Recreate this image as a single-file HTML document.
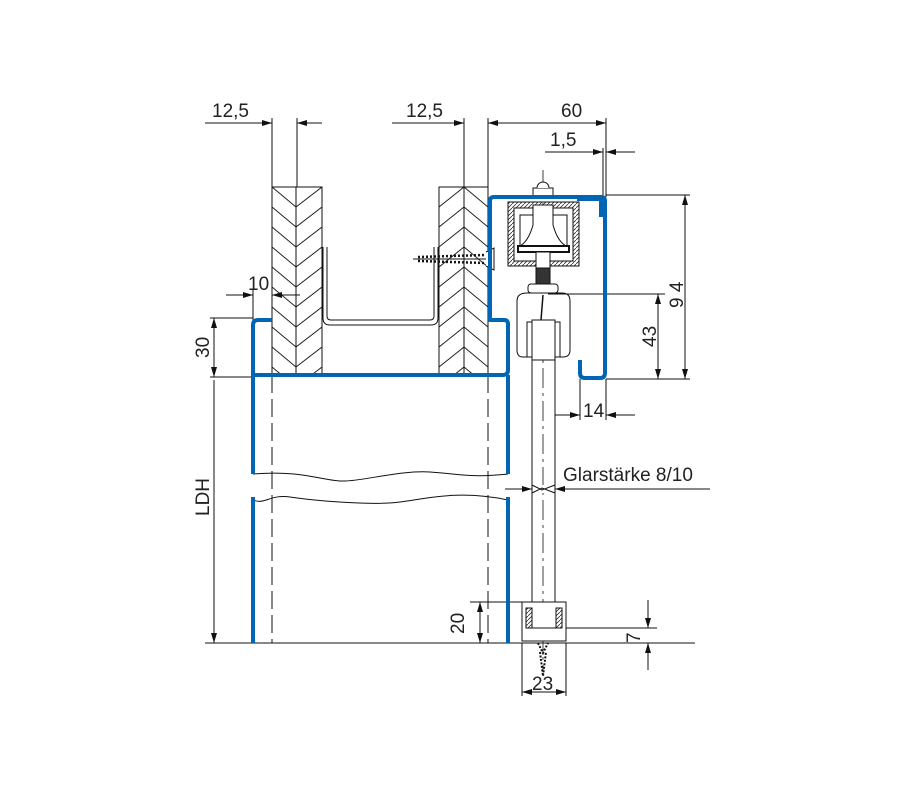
<!DOCTYPE html>
<html><head><meta charset="utf-8"><style>
html,body{margin:0;padding:0;background:#fff;}
svg{display:block;}
text{font-family:"Liberation Sans",sans-serif;font-size:19px;fill:#222;}
</style></head><body>
<svg width="900" height="800" viewBox="0 0 900 800" xmlns="http://www.w3.org/2000/svg">
<defs>
<marker id="a" viewBox="0 0 10 6" refX="10" refY="3" markerWidth="10" markerHeight="6" markerUnits="userSpaceOnUse" orient="auto"><path d="M0,0L10,3L0,6z" fill="#111"/></marker>
<pattern id="hL" patternUnits="userSpaceOnUse" width="24" height="20" x="272" y="187"><path d="M0,0L24,20M0,-20L24,0M0,20L24,40" stroke="#222" stroke-width="1"/></pattern>
<pattern id="hR" patternUnits="userSpaceOnUse" width="26" height="20" x="296" y="187"><path d="M0,20L26,0M0,0L26,-20M0,40L26,20" stroke="#222" stroke-width="1"/></pattern>
<pattern id="hL2" patternUnits="userSpaceOnUse" width="25" height="20" x="439" y="187"><path d="M0,20L25,0M0,0L25,-20M0,40L25,20" stroke="#222" stroke-width="1"/></pattern>
<pattern id="hR2" patternUnits="userSpaceOnUse" width="24" height="20" x="464" y="187"><path d="M0,0L24,20M0,-20L24,0M0,20L24,40" stroke="#222" stroke-width="1"/></pattern>
<pattern id="hs" patternUnits="userSpaceOnUse" width="4" height="4"><path d="M0,4L4,0" stroke="#333" stroke-width="0.8"/></pattern>
</defs>
<g stroke="#111" stroke-width="1" fill="none">
<line x1="205" y1="123" x2="272" y2="123" marker-end="url(#a)"/>
<line x1="322" y1="123" x2="297" y2="123" marker-end="url(#a)"/>
<line x1="272" y1="118" x2="272" y2="187"/><line x1="297" y1="118" x2="297" y2="187"/>
<line x1="392" y1="123" x2="464" y2="123" marker-end="url(#a)"/>
<line x1="510" y1="123" x2="488" y2="123" marker-end="url(#a)"/>
<line x1="464" y1="118" x2="464" y2="187"/><line x1="488" y1="118" x2="488" y2="197"/>
<line x1="488" y1="123" x2="606" y2="123" marker-end="url(#a)"/>
<line x1="606" y1="118" x2="606" y2="197"/>
<line x1="545" y1="152" x2="603" y2="152" marker-end="url(#a)"/>
<line x1="635" y1="152" x2="606" y2="152" marker-end="url(#a)"/>
<line x1="603" y1="148" x2="603" y2="197"/>
<rect x="272" y="187" width="24" height="188" fill="url(#hL)"/>
<rect x="296" y="187" width="26" height="188" fill="url(#hR)"/>
<rect x="272" y="187" width="50" height="188"/><line x1="296" y1="187" x2="296" y2="375"/>
<rect x="439" y="187" width="25" height="188" fill="url(#hL2)"/>
<rect x="464" y="187" width="24" height="188" fill="url(#hR2)"/>
<rect x="439" y="187" width="49" height="188"/><line x1="464" y1="187" x2="464" y2="375"/>
<path d="M323,247V318q0,7 7,7H431q7,0 7,-7V247"/>
<path d="M327,247V316q0,4 4,4H430q4,0 4,-4V247"/>
<line x1="413" y1="259" x2="490" y2="259" stroke-width="1"/>
<path d="M418,257L485,255M418,261L485,263" stroke-dasharray="2 2" stroke-width="2.5"/>
<path d="M486,252L494,248V270L486,266" fill="#fff"/>
<line x1="272" y1="375" x2="272" y2="643" stroke-dasharray="18 6"/>
<line x1="488" y1="375" x2="488" y2="643" stroke-dasharray="18 6"/>
<line x1="543" y1="170" x2="543" y2="670" stroke-dasharray="20 5 3 5" stroke-width="0.8"/>
<path d="M253,474C300,470 320,480 340,481S400,470 430,472S470,478 508,474"/>
<path d="M253,500C265,505 270,494 290,497S370,506 400,502S460,490 508,500"/>
<line x1="532" y1="357" x2="532" y2="602"/><line x1="555" y1="357" x2="555" y2="602"/>
<path d="M532,485l10,5l13,-5M532,493l10,-5l13,5" fill="#fff"/>
<rect x="508" y="202" width="71" height="64" fill="url(#hs)"/>
<rect x="514" y="208" width="59" height="53" fill="#fff"/>
<rect x="508" y="202" width="71" height="64"/>
<rect x="520" y="215" width="47" height="32" fill="#fff"/>
<path d="M533,205h20v20q5,18 15,22H518q10,-4 15,-22z" fill="#fff"/>
<rect x="518" y="246" width="51" height="6" fill="#fff" stroke-width="2"/>
<rect x="533" y="188" width="20" height="10" fill="#fff"/>
<path d="M537,188a6,6 0 0 1 12,0" fill="#fff"/>
<line x1="531" y1="197" x2="555" y2="197" stroke-width="2"/>
<rect x="536" y="252" width="14" height="16" fill="#fff"/>
<rect x="536" y="268" width="14" height="16" fill="#333"/>
<rect x="528" y="284" width="30" height="9" rx="3" fill="#fff"/>
<path d="M527,293H562q8,0 8,8V350q0,7 -7,7H523q-6,0 -6,-7V301q0,-8 10,-8z" fill="#fff"/>
<rect x="527" y="322" width="33" height="35" fill="#fff"/>
<rect x="532" y="320" width="23" height="40" fill="#fff"/>
<line x1="543" y1="295" x2="541" y2="320" stroke-width="1.5"/>
<rect x="522" y="602" width="44" height="39" fill="#fff"/>
<rect x="526" y="608" width="6" height="20" fill="url(#hs)" stroke-width="1"/>
<rect x="556" y="608" width="6" height="20" fill="url(#hs)" stroke-width="1"/>
<line x1="532" y1="628" x2="556" y2="628"/>
<path d="M538,643l5,10l5,-10M540,652l3,24l3,-24" stroke-dasharray="2 1.5" stroke-width="2"/>
<line x1="205" y1="643" x2="695" y2="643"/>
<line x1="522" y1="643" x2="522" y2="696"/><line x1="566" y1="643" x2="566" y2="696"/>
<line x1="543" y1="692" x2="522" y2="692" marker-end="url(#a)"/><line x1="543" y1="692" x2="566" y2="692" marker-end="url(#a)"/>
<line x1="470" y1="602" x2="522" y2="602"/>
<line x1="480" y1="622" x2="480" y2="602" marker-end="url(#a)"/><line x1="480" y1="622" x2="480" y2="643" marker-end="url(#a)"/>
<line x1="566" y1="628" x2="657" y2="628"/>
<line x1="648" y1="600" x2="648" y2="628" marker-end="url(#a)"/>
<line x1="648" y1="670" x2="648" y2="643" marker-end="url(#a)"/>
<line x1="606" y1="195" x2="690" y2="195"/><line x1="606" y1="379" x2="690" y2="379"/>
<line x1="685" y1="290" x2="685" y2="195" marker-end="url(#a)"/><line x1="685" y1="290" x2="685" y2="379" marker-end="url(#a)"/>
<line x1="548" y1="294" x2="665" y2="294"/>
<line x1="658" y1="335" x2="658" y2="294" marker-end="url(#a)"/><line x1="658" y1="335" x2="658" y2="379" marker-end="url(#a)"/>
<line x1="580" y1="379" x2="580" y2="420"/><line x1="606" y1="379" x2="606" y2="420"/>
<line x1="555" y1="415" x2="580" y2="415" marker-end="url(#a)"/><line x1="635" y1="415" x2="606" y2="415" marker-end="url(#a)"/>
<line x1="505" y1="489" x2="532" y2="489" marker-end="url(#a)"/>
<line x1="710" y1="489" x2="555" y2="489" marker-end="url(#a)"/>
<line x1="226" y1="295" x2="253" y2="295" marker-end="url(#a)"/>
<line x1="300" y1="295" x2="272" y2="295" marker-end="url(#a)"/>
<line x1="253" y1="290" x2="253" y2="320"/>
<line x1="210" y1="318" x2="253" y2="318"/><line x1="210" y1="377" x2="253" y2="377"/>
<line x1="214" y1="348" x2="214" y2="318" marker-end="url(#a)"/><line x1="214" y1="348" x2="214" y2="377" marker-end="url(#a)"/>
<line x1="214" y1="380" x2="214" y2="643" marker-end="url(#a)"/>
</g>
<g stroke="#0066b3" stroke-width="4" fill="none" stroke-linejoin="round">
<path d="M272,320H258q-5,0 -5,5V375H503q5,0 5,-5V324q0,-4 -4,-4H490V201q0,-4 4,-4H601q4,0 4,4V373q0,5 -5,5H585q-5,0 -5,-5V360"/>
<path d="M253,375V474M253,497V643M508,375V474M508,497V643"/>
<rect x="577" y="197" width="28" height="4" fill="#0066b3" stroke="none"/>
<rect x="599" y="197" width="6" height="20" fill="#0066b3" stroke="none"/>
</g>
<text x="212" y="117">12,5</text>
<text x="406" y="117">12,5</text>
<text x="561" y="117">60</text>
<text x="550" y="146">1,5</text>
<text x="248" y="290">10</text>
<text x="563" y="481">Glarstärke 8/10</text>
<text x="583" y="417">14</text>
<text x="532" y="690">23</text>
<text transform="translate(209,358) rotate(-90)">30</text>
<text transform="translate(209,516) rotate(-90)">LDH</text>
<text transform="translate(464,634) rotate(-90)">20</text>
<text transform="translate(656,347) rotate(-90)">43</text>
<text transform="translate(683,308) rotate(-90)">9 4</text>
<text transform="translate(640,643) rotate(-90)">7</text>
</svg>
</body></html>
